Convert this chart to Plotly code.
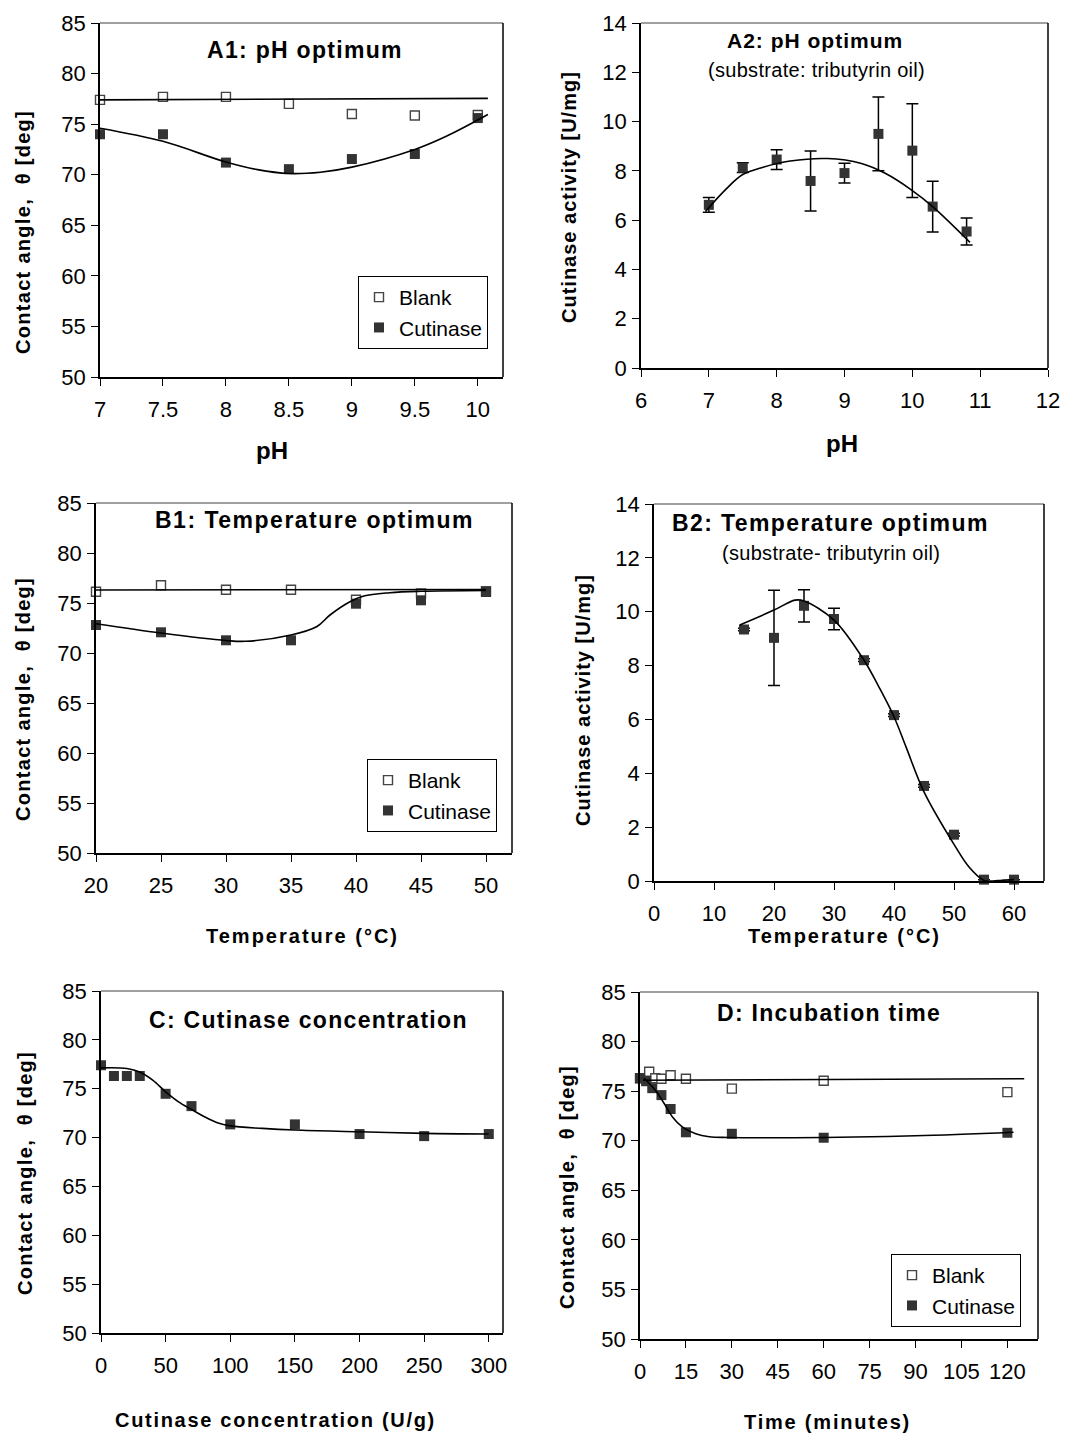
import plotly.graph_objects as go

W, H = 1069, 1433
FONT = "Liberation Sans, Arial, sans-serif"
MARK = "#333333"

# ---------------- A1: contact angle vs pH ----------------
a1_ph = [7, 7.5, 8, 8.5, 9, 9.5, 10]
a1_blank = [77.4, 77.7, 77.7, 77.0, 76.0, 75.85, 75.9]
a1_cut = [74.0, 74.0, 71.2, 70.55, 71.55, 72.05, 75.6]
a1_blank_fit_x = [7, 10.08]
a1_blank_fit_y = [77.4, 77.55]
a1_cut_fit_x = [7, 7.5, 8, 8.25, 8.5, 8.75, 9, 9.5, 9.75, 10.08]
a1_cut_fit_y = [74.6, 73.3, 71.25, 70.5, 70.12, 70.25, 70.75, 72.5, 73.8, 75.95]

# ---------------- A2: activity vs pH ----------------
a2_ph = [7, 7.5, 8, 8.5, 9, 9.5, 10, 10.3, 10.8]
a2_act = [6.62, 8.13, 8.46, 7.59, 7.91, 9.5, 8.82, 6.55, 5.54]
a2_err = [0.3, 0.2, 0.4, 1.22, 0.4, 1.5, 1.9, 1.03, 0.55]
a2_fit_x = [6.95, 7.25, 7.5, 7.8, 8.2, 8.75, 9.25, 9.6, 10, 10.3, 10.85]
a2_fit_y = [6.35, 7.25, 7.85, 8.15, 8.4, 8.5, 8.3, 7.9, 7.2, 6.55, 5.1]

# ---------------- B1: contact angle vs temperature ----------------
b1_temp = [20, 25, 30, 35, 40, 45, 50]
b1_blank = [76.13, 76.77, 76.33, 76.33, 75.33, 75.95, 76.17]
b1_cut = [72.8, 72.07, 71.27, 71.27, 74.93, 75.27, 76.1]
b1_blank_fit_x = [20, 50]
b1_blank_fit_y = [76.3, 76.35]
b1_cut_fit_x = [20, 25, 30, 31.5, 35, 37, 38, 39.5, 40.6, 42.6, 45, 50]
b1_cut_fit_y = [72.93, 72.0, 71.25, 71.17, 71.8, 72.65, 73.8, 75.1, 75.7, 76.03, 76.17, 76.25]

# ---------------- B2: activity vs temperature ----------------
b2_temp = [15, 20, 25, 30, 35, 40, 45, 50, 55, 60]
b2_act = [9.34, 9.03, 10.22, 9.73, 8.2, 6.16, 3.53, 1.72, 0.05, 0.05]
b2_err = [0.05, 1.77, 0.6, 0.4, 0.05, 0.05, 0.05, 0.05, 0.0, 0.0]
b2_fit_x = [14.3, 20, 23.5, 25, 30, 35, 37.5, 40, 42, 45, 50, 52.5, 55, 56.5, 58, 60]
b2_fit_y = [9.51, 10.06, 10.43, 10.4, 9.69, 8.2, 7.2, 6.1, 4.98, 3.31, 1.36, 0.52, 0.02, 0.0, 0.03, 0.05]

# ---------------- C: contact angle vs cutinase concentration ----------------
c_conc = [0, 10, 20, 30, 50, 70, 100, 150, 200, 250, 300]
c_cut = [77.4, 76.3, 76.3, 76.3, 74.48, 73.22, 71.35, 71.35, 70.36, 70.15, 70.36]
c_fit_x = [0, 20, 30, 40, 50, 60, 70, 80, 90, 100, 125, 150, 200, 250, 300]
c_fit_y = [77.13, 77.07, 76.7, 75.87, 74.68, 73.66, 72.88, 72.13, 71.52, 71.2, 70.94, 70.77, 70.6, 70.43, 70.36]

# ---------------- D: contact angle vs incubation time ----------------
d_time_blank = [0, 3, 5, 7, 10, 15, 30, 60, 120]
d_blank = [76.3, 76.95, 76.3, 76.25, 76.6, 76.25, 75.25, 76.05, 74.9]
d_time_cut = [0, 2, 4, 7, 10, 15, 30, 60, 120]
d_cut = [76.3, 76.0, 75.3, 74.6, 73.2, 70.85, 70.7, 70.3, 70.8]
d_blank_fit_x = [1, 125.5]
d_blank_fit_y = [76.1, 76.25]
d_cut_fit_x = [1.3, 5, 7.8, 10.6, 13.8, 18.2, 22.6, 29, 45, 60, 90, 122]
d_cut_fit_y = [76.3, 75.1, 73.8, 72.4, 71.4, 70.7, 70.4, 70.33, 70.3, 70.33, 70.5, 70.86]

# panel boxes in pixels: left, right, top, bottom
boxes = {
    1: (100, 503, 23, 377),
    2: (641, 1048, 23, 368),
    3: (96, 512, 503, 853),
    4: (654, 1044, 504, 881),
    5: (101, 503, 991, 1333),
    6: (640, 1038, 992, 1339),
}
xranges = {1: [7, 10.2], 2: [6, 12], 3: [20, 52], 4: [0, 65], 5: [0, 311], 6: [0, 130]}
xdticks = {1: 0.5, 2: 1, 3: 5, 4: 10, 5: 50, 6: 15}
yranges = {1: [50, 85], 2: [0, 14], 3: [50, 85], 4: [0, 14], 5: [50, 85], 6: [50, 85]}
ydticks = {1: 5, 2: 2, 3: 5, 4: 2, 5: 5, 6: 5}


def ax(i):
    return ("x" if i == 1 else f"x{i}"), ("y" if i == 1 else f"y{i}")


fig = go.Figure()


def blank_markers(i, x, y, legend=None, show=False):
    xa, ya = ax(i)
    fig.add_trace(go.Scatter(
        x=x, y=y, xaxis=xa, yaxis=ya, mode="markers", name="Blank",
        marker=dict(symbol="square", size=9, color="white", line=dict(color="#444444", width=1.4)),
        cliponaxis=False, showlegend=show, legend=legend))


def cut_markers(i, x, y, err=None, legend=None, show=False):
    xa, ya = ax(i)
    kw = {}
    if err is not None:
        kw["error_y"] = dict(type="data", array=err, visible=True, color="black",
                             thickness=1.5, width=6)
    fig.add_trace(go.Scatter(
        x=x, y=y, xaxis=xa, yaxis=ya, mode="markers", name="Cutinase",
        marker=dict(symbol="square", size=10, color=MARK),
        cliponaxis=False, showlegend=show, legend=legend, **kw))


def fit_line(i, x, y):
    xa, ya = ax(i)
    fig.add_trace(go.Scatter(
        x=x, y=y, xaxis=xa, yaxis=ya, mode="lines",
        line=dict(color="black", width=1.6, shape="spline", smoothing=1.0),
        showlegend=False, hoverinfo="skip"))


# A1
blank_markers(1, a1_ph, a1_blank, "legend", True)
cut_markers(1, a1_ph, a1_cut, legend="legend", show=True)
fit_line(1, a1_blank_fit_x, a1_blank_fit_y)
fit_line(1, a1_cut_fit_x, a1_cut_fit_y)
# A2
cut_markers(2, a2_ph, a2_act, err=a2_err)
fit_line(2, a2_fit_x, a2_fit_y)
# B1
blank_markers(3, b1_temp, b1_blank, "legend2", True)
cut_markers(3, b1_temp, b1_cut, legend="legend2", show=True)
fit_line(3, b1_blank_fit_x, b1_blank_fit_y)
fit_line(3, b1_cut_fit_x, b1_cut_fit_y)
# B2
cut_markers(4, b2_temp, b2_act, err=b2_err)
fit_line(4, b2_fit_x, b2_fit_y)
# C
cut_markers(5, c_conc, c_cut)
fit_line(5, c_fit_x, c_fit_y)
# D
blank_markers(6, d_time_blank, d_blank, "legend3", True)
cut_markers(6, d_time_cut, d_cut, legend="legend3", show=True)
fit_line(6, d_blank_fit_x, d_blank_fit_y)
fit_line(6, d_cut_fit_x, d_cut_fit_y)

layout = dict(
    width=W, height=H,
    # panels are placed by explicit domains; keep the margins fixed at zero
    margin=dict(l=0, r=0, t=0, b=0, pad=0, autoexpand=False),
    paper_bgcolor="white", plot_bgcolor="white",
    font=dict(family=FONT, color="black", size=20),
    showlegend=True,
)

shapes = []
for i, (l, r, t, b) in boxes.items():
    xa, ya = ax(i)
    xk = "xaxis" if i == 1 else f"xaxis{i}"
    yk = "yaxis" if i == 1 else f"yaxis{i}"
    layout[xk] = dict(
        domain=[l / W, r / W], range=xranges[i], dtick=xdticks[i], tick0=0,
        anchor=ya, showgrid=False, zeroline=False, showline=True, linecolor="black",
        linewidth=1.5, ticks="outside", ticklen=7, tickwidth=1.2, tickcolor="black",
        tickfont=dict(size=22, family=FONT), ticklabelstandoff=5, fixedrange=True,
        automargin=False)
    layout[yk] = dict(
        domain=[1 - b / H, 1 - t / H], range=yranges[i], dtick=ydticks[i], tick0=0,
        anchor=xa, showgrid=False, zeroline=False, showline=True, linecolor="black",
        linewidth=1.5, ticks="outside", ticklen=7, tickwidth=1.2, tickcolor="black",
        tickfont=dict(size=22, family=FONT), ticklabelstandoff=1, fixedrange=True,
        automargin=False)
    # plot-area frame: gray top edge, dark right edge
    shapes.append(dict(type="line", xref=f"{xa} domain", yref=f"{ya} domain",
                       x0=0, x1=1, y0=1, y1=1, line=dict(color="#7f7f7f", width=1.5)))
    shapes.append(dict(type="line", xref=f"{xa} domain", yref=f"{ya} domain",
                       x0=1, x1=1, y0=0, y1=1, line=dict(color="black", width=1.5)))
layout["shapes"] = shapes

leg_common = dict(bgcolor="white", bordercolor="black", borderwidth=1,
                  font=dict(size=21, family=FONT), xanchor="right", yanchor="top",
                  tracegroupgap=0)
layout["legend"] = dict(x=488 / W, y=1 - 276 / H, **leg_common)
layout["legend2"] = dict(x=497 / W, y=1 - 759 / H, **leg_common)
layout["legend3"] = dict(x=1021 / W, y=1 - 1254 / H, **leg_common)


def sp(text, ls):
    return f'<span style="letter-spacing:{ls}px">{text}</span>'


def ann(text, cx, cy, size, bold=True, angle=0, ls=0.0):
    t = sp(text, ls) if ls else text
    if bold:
        t = f"<b>{t}</b>"
    return dict(text=t, x=cx / W, y=1 - cy / H, xref="paper", yref="paper",
                xanchor="center", yanchor="middle", showarrow=False,
                textangle=angle, font=dict(size=size, family=FONT, color="black"))


ylab_ca = "Contact angle,  θ [deg]"
ylab_act = "Cutinase activity [U/mg]"
annotations = [
    # panel titles
    ann("A1: pH optimum", 305, 50, 23, ls=1.3),
    ann("A2: pH optimum", 815, 41, 21, ls=1.0),
    ann("(substrate: tributyrin oil)", 816, 70, 20, bold=False, ls=0.3),
    ann("B1: Temperature optimum", 314, 520, 23, ls=1.5),
    ann("B2: Temperature optimum", 830, 523, 23, ls=1.4),
    ann("(substrate- tributyrin oil)", 831, 553, 20, bold=False, ls=0.3),
    ann("C: Cutinase concentration", 308, 1020, 23, ls=1.3),
    ann("D: Incubation time", 829, 1013, 23, ls=1.3),
    # axis titles
    ann(ylab_ca, 23, 232, 20, angle=-90, ls=1.3),
    ann(ylab_act, 569, 197, 20, angle=-90, ls=1.0),
    ann(ylab_ca, 23, 699, 20, angle=-90, ls=1.3),
    ann(ylab_act, 583, 700, 20, angle=-90, ls=1.0),
    ann(ylab_ca, 25, 1173, 20, angle=-90, ls=1.3),
    ann(ylab_ca, 567, 1187, 20, angle=-90, ls=1.3),
    ann("pH", 272, 450, 24),
    ann("pH", 842, 443, 24),
    ann("Temperature (°C)", 302, 936, 20, ls=2),
    ann("Temperature (°C)", 844, 936, 20, ls=2),
    ann("Cutinase concentration (U/g)", 275, 1420, 20, ls=1.7),
    ann("Time (minutes)", 827, 1422, 20, ls=1.8),
]
layout["annotations"] = annotations

fig.update_layout(**layout)
fig.write_html("out.html")
